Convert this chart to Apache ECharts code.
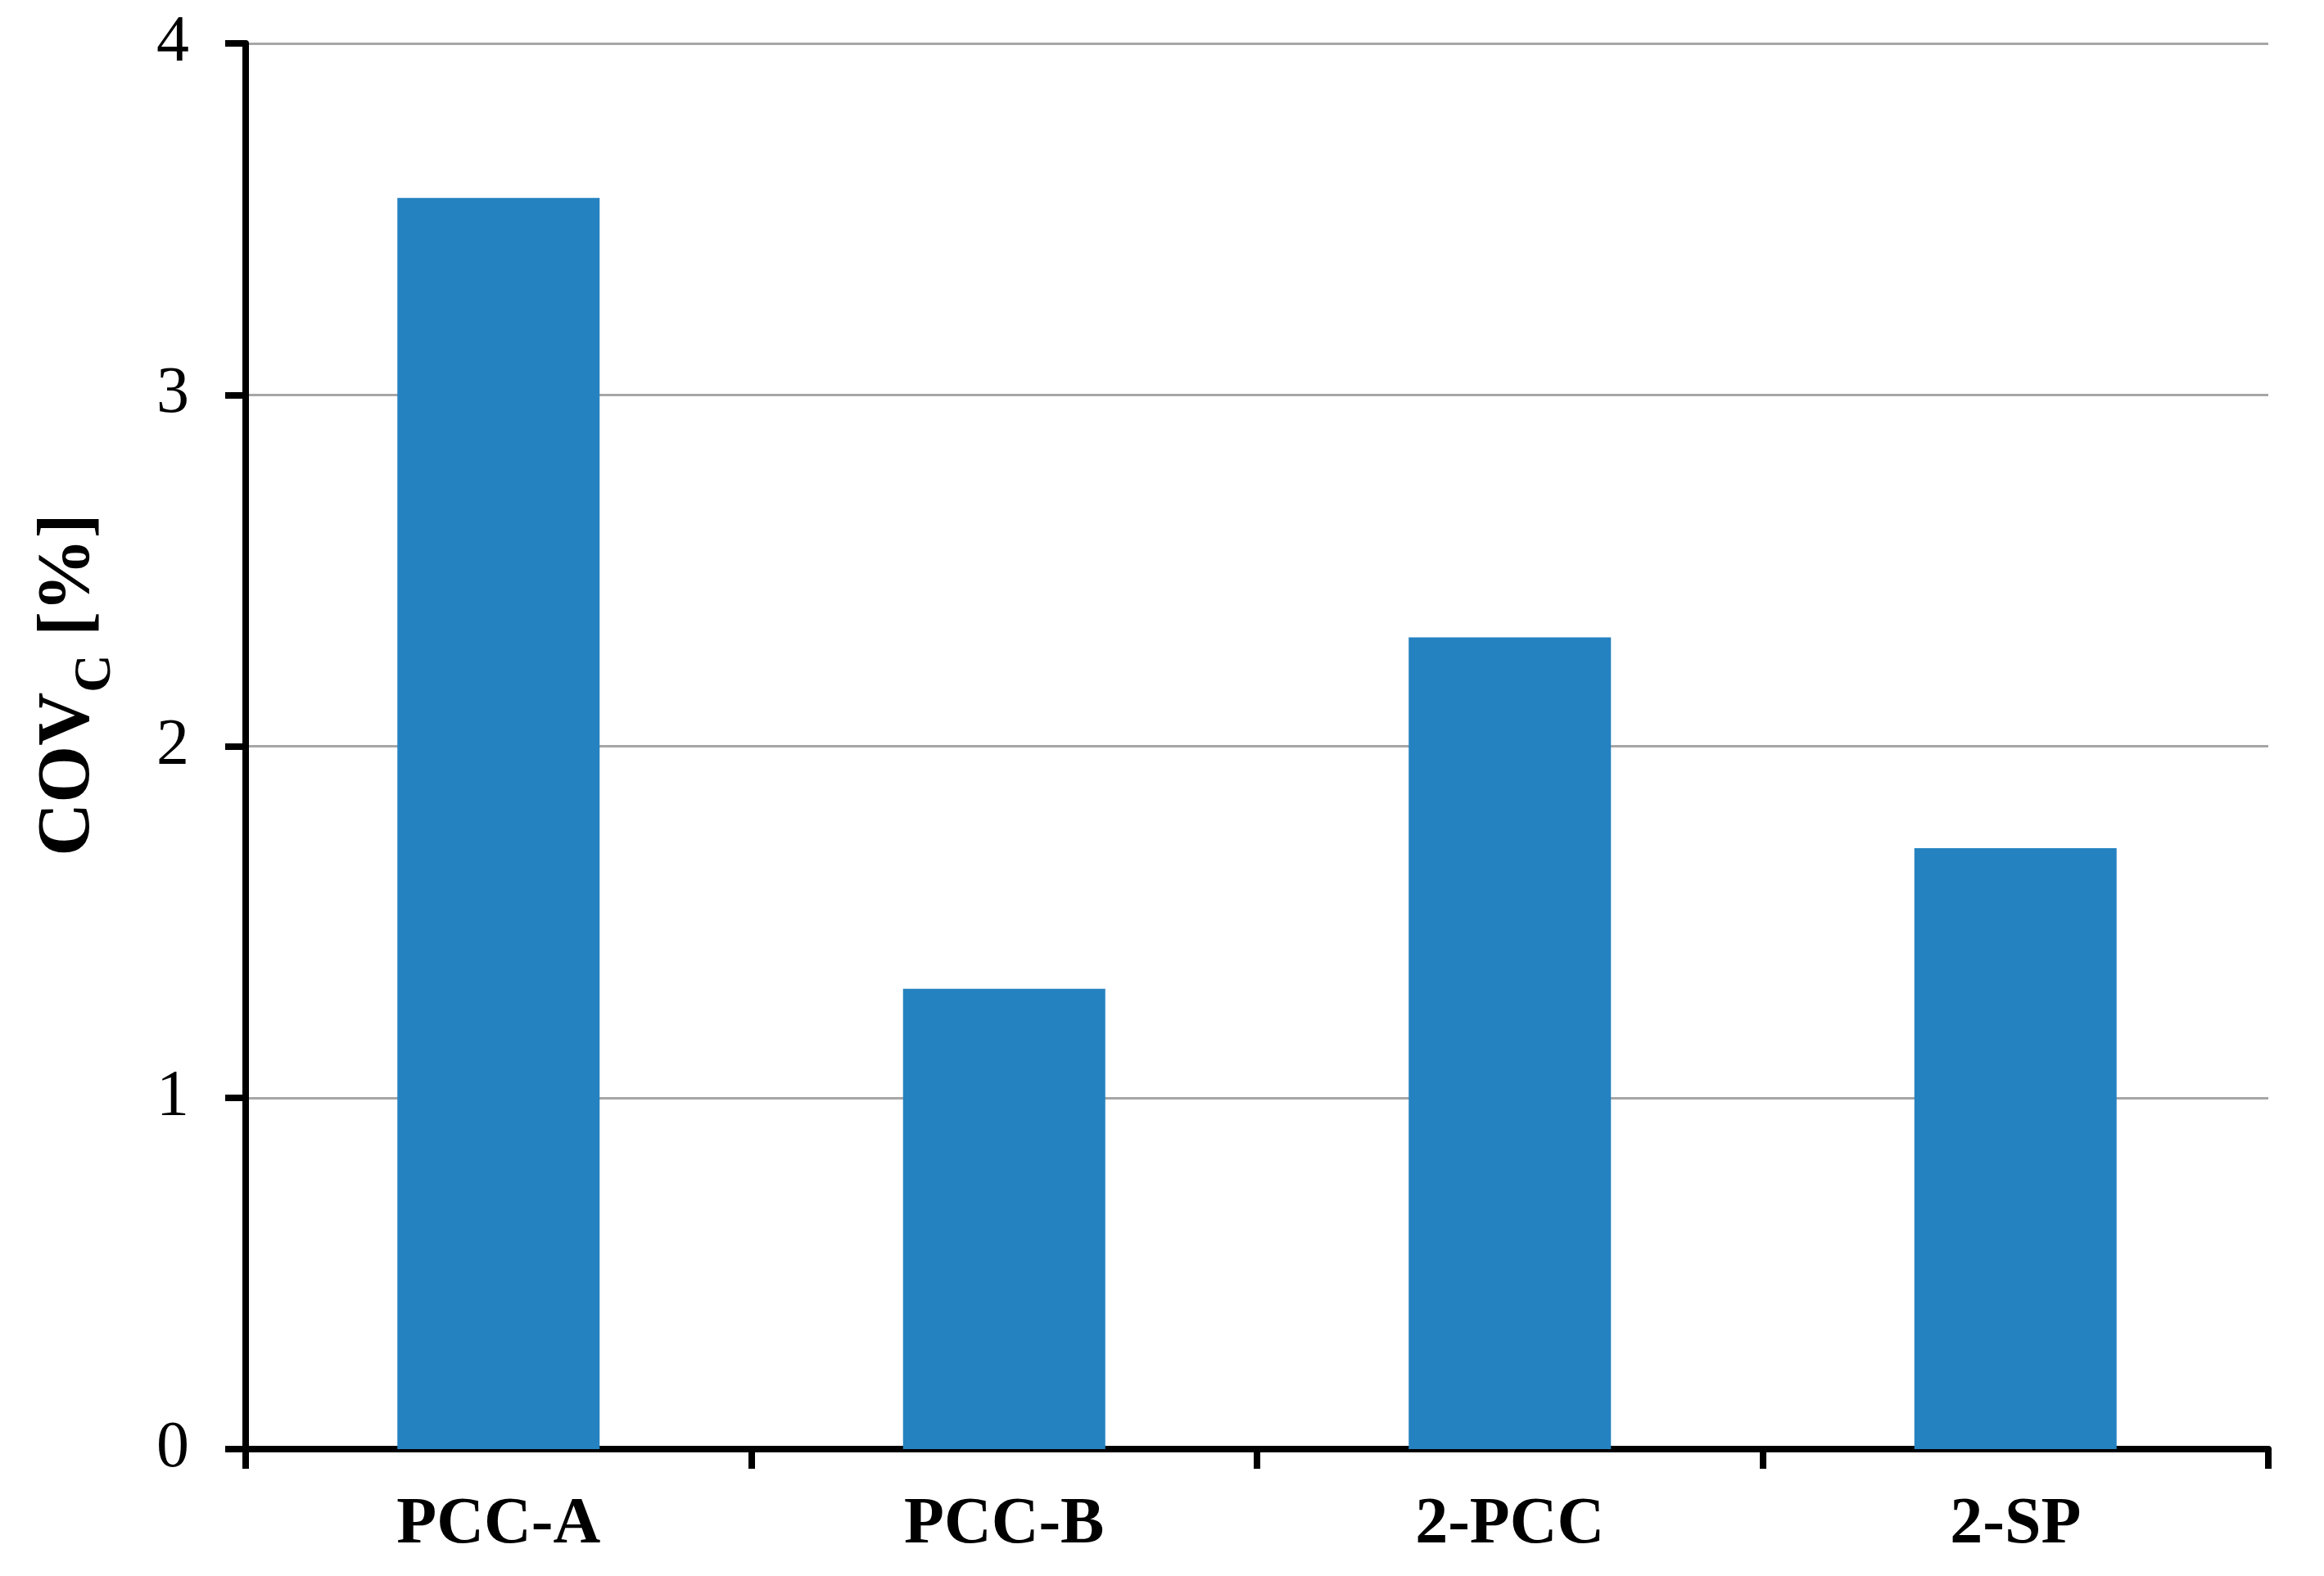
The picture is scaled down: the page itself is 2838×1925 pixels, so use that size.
<!DOCTYPE html>
<html>
<head>
<meta charset="utf-8">
<script src="https://cdn.jsdelivr.net/npm/echarts@6/dist/echarts.min.js"></script>
<style>
html,body{margin:0;padding:0;background:#fff;}
#chart{width:2838px;height:1925px;}
</style>
</head>
<body>
<div id="chart"></div>
<script>
const categories = ['PCC-A', 'PCC-B', '2-PCC', '2-SP'];
const covValues = [3.56, 1.31, 2.31, 1.71];
const yTicks = [0, 1, 2, 3, 4];

const chart = echarts.init(document.getElementById('chart'), null, {renderer: 'canvas'});
const serif = '"Liberation Serif", "Times New Roman", serif';
chart.setOption({
  animation: false,
  backgroundColor: '#ffffff',
  grid: {left: 300, right: 68, top: 53, bottom: 155, containLabel: false},
  xAxis: {
    type: 'category',
    data: categories,
    boundaryGap: true,
    axisLine: {show: true, lineStyle: {color: '#000', width: 8}},
    axisTick: {show: true, length: 24, lineStyle: {color: '#000', width: 8}},
    axisLabel: {margin: 53, fontFamily: serif, fontSize: 80, fontWeight: 'bold', color: '#000'},
    splitLine: {show: false}
  },
  yAxis: {
    type: 'value',
    min: yTicks[0],
    max: yTicks[yTicks.length - 1],
    interval: 1,
    axisLine: {show: true, lineStyle: {color: '#000', width: 8}},
    axisTick: {show: true, length: 25, lineStyle: {color: '#000', width: 8}},
    axisLabel: {margin: 69, fontFamily: serif, fontSize: 80, color: '#000'},
    splitLine: {show: true, lineStyle: {color: '#a6a6a6', width: 3}},
    name: '{a|COV}{b|C}{a| [%]}',
    nameLocation: 'middle',
    nameGap: 170,
    nameRotate: 90,
    nameTextStyle: {
      padding: [0, 0, 0, 150],
      rich: {
        a: {fontFamily: serif, fontSize: 90, fontWeight: 'bold', color: '#000', lineHeight: 90, verticalAlign: 'top'},
        b: {fontFamily: serif, fontSize: 64, fontWeight: 'bold', color: '#000', lineHeight: 64, verticalAlign: 'top', padding: [45, 0, 0, 0]}
      }
    }
  },
  series: [{
    type: 'bar',
    data: covValues,
    barWidth: '40%',
    itemStyle: {color: '#2582c0'}
  }]
});
</script>
</body>
</html>
